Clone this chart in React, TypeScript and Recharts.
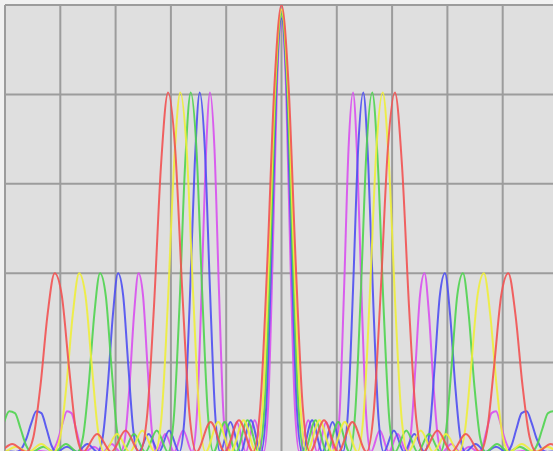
import React from 'react';
import { LineChart, Line, XAxis, YAxis, CartesianGrid } from 'recharts';

// Diffraction spectrum: positive-side samples [position, intensity] for each colour.
// The spectrum is symmetric about the central (zero-order) maximum.
const redPos: [number, number][] = [
  [0, 1.0], [1.28, 0.82], [2.56, 0.426], [3.85, 0.1], [5.13, 0], [7.69, 0.071], [10.26, 0],
  [12.82, 0.067], [15.38, 0], [16.66, 0.088], [17.95, 0.362], [19.23, 0.678], [20.51, 0.804],
  [21.79, 0.641], [23.07, 0.323], [24.36, 0.074], [25.64, 0], [28.2, 0.048], [30.77, 0],
  [33.33, 0.04], [35.89, 0], [37.17, 0.047], [38.46, 0.194], [39.74, 0.351], [41.02, 0.4],
  [42.3, 0.308], [43.58, 0.149], [44.87, 0.033], [46.15, 0], [48.71, 0.018], [51.28, 0],
  [53.84, 0.012],
];

const yellowPos: [number, number][] = [
  [0, 0.99], [1.14, 0.82], [2.29, 0.426], [3.43, 0.1], [4.58, 0], [6.86, 0.071], [9.15, 0],
  [11.44, 0.067], [13.73, 0], [14.87, 0.088], [16.01, 0.362], [17.16, 0.678], [18.3, 0.804],
  [19.44, 0.641], [20.59, 0.323], [21.73, 0.074], [22.88, 0], [25.16, 0.048], [27.45, 0],
  [29.74, 0.04], [32.03, 0], [33.17, 0.047], [34.31, 0.194], [35.46, 0.351], [36.6, 0.4],
  [37.74, 0.308], [38.89, 0.149], [40.03, 0.033], [41.18, 0], [43.46, 0.018], [45.75, 0],
  [48.04, 0.012], [50.33, 0], [51.47, 0.014], [52.61, 0.052],
];

const greenPos: [number, number][] = [
  [0, 0.98], [1.03, 0.82], [2.05, 0.426], [3.08, 0.1], [4.1, 0], [6.15, 0.071], [8.21, 0],
  [10.26, 0.067], [12.31, 0], [13.33, 0.088], [14.36, 0.362], [15.38, 0.678], [16.41, 0.804],
  [17.44, 0.641], [18.46, 0.323], [19.49, 0.074], [20.51, 0], [22.56, 0.048], [24.62, 0],
  [26.67, 0.04], [28.72, 0], [29.74, 0.047], [30.77, 0.194], [31.79, 0.351], [32.82, 0.4],
  [33.85, 0.308], [34.87, 0.149], [35.9, 0.033], [36.92, 0], [38.97, 0.018], [41.03, 0],
  [43.08, 0.012], [45.13, 0], [46.15, 0.014], [47.18, 0.052], [48.2, 0.087], [49.23, 0.091],
  [50.26, 0.064], [51.28, 0.028], [52.31, 0.006], [53.33, 0],
];

const bluePos: [number, number][] = [
  [0, 0.97], [0.92, 0.82], [1.85, 0.426], [2.77, 0.1], [3.7, 0], [5.54, 0.071], [7.39, 0],
  [9.24, 0.067], [11.09, 0], [12.01, 0.088], [12.93, 0.362], [13.86, 0.678], [14.78, 0.804],
  [15.7, 0.641], [16.63, 0.323], [17.55, 0.074], [18.48, 0], [20.32, 0.048], [22.17, 0],
  [24.02, 0.04], [25.87, 0], [26.79, 0.047], [27.71, 0.194], [28.64, 0.351], [29.56, 0.4],
  [30.48, 0.308], [31.41, 0.149], [32.33, 0.033], [33.26, 0], [35.1, 0.018], [36.95, 0],
  [38.8, 0.012], [40.65, 0], [41.57, 0.014], [42.49, 0.052], [43.42, 0.087], [44.34, 0.091],
  [45.26, 0.064], [46.19, 0.028], [47.11, 0.006], [48.04, 0], [49.88, 0.002], [51.73, 0],
];

const magentaPos: [number, number][] = [
  [0, 0.97], [0.81, 0.82], [1.62, 0.426], [2.42, 0.1], [3.23, 0], [4.85, 0.071], [6.47, 0],
  [8.08, 0.067], [9.7, 0], [10.51, 0.088], [11.31, 0.362], [12.12, 0.678], [12.93, 0.804],
  [13.74, 0.641], [14.55, 0.323], [15.35, 0.074], [16.16, 0], [17.78, 0.048], [19.4, 0],
  [21.01, 0.04], [22.63, 0], [23.44, 0.047], [24.24, 0.194], [25.05, 0.351], [25.86, 0.4],
  [26.67, 0.308], [27.48, 0.149], [28.28, 0.033], [29.09, 0], [30.71, 0.018], [32.33, 0],
  [33.94, 0.012], [35.56, 0], [36.37, 0.014], [37.17, 0.052], [37.98, 0.087], [38.79, 0.091],
  [39.6, 0.064], [40.41, 0.028], [41.21, 0.006], [42.02, 0], [43.64, 0.002], [45.26, 0],
  [46.87, 0.001], [48.49, 0], [51.72, 0],
];

const xGridTicks = [-50, -40, -30, -20, -10, 0, 10, 20, 30, 40, 50];
const yGridTicks = [0, 0.2, 0.4, 0.6, 0.8, 1];

const toSymmetricRows = (pos: [number, number][]) => {
  const neg = pos.filter((p) => p[0] > 0).map(([x, y]) => ({ x: -x, y })).reverse();
  return [...neg, ...pos.map(([x, y]) => ({ x, y }))];
};

const series = [
  { name: 'violet', color: '#d850f0', data: toSymmetricRows(magentaPos) },
  { name: 'blue', color: '#4f4ff2', data: toSymmetricRows(bluePos) },
  { name: 'green', color: '#4fd44f', data: toSymmetricRows(greenPos) },
  { name: 'yellow', color: '#eeee3a', data: toSymmetricRows(yellowPos) },
  { name: 'red', color: '#f25252', data: toSymmetricRows(redPos) },
];

export default function App() {
  return (
    <div
      style={{
        position: 'absolute',
        left: 0,
        top: 0,
        width: 553,
        height: 451,
        overflow: 'hidden',
        background: '#f1f1f1',
      }}
    >
      <LineChart width={563} height={457} margin={{ top: 5, right: 5, bottom: 5, left: 5 }}>
        <CartesianGrid fill="#dfdfdf" stroke="#9c9c9c" strokeWidth={2} />
        <XAxis
          dataKey="x"
          type="number"
          domain={[-50, 50]}
          ticks={xGridTicks}
          allowDataOverflow
          hide
        />
        <YAxis type="number" domain={[0, 1]} ticks={yGridTicks} allowDataOverflow hide />
        {series.map((s) => (
          <Line
            key={s.name}
            data={s.data}
            dataKey="y"
            type="monotone"
            stroke={s.color}
            strokeWidth={2}
            strokeOpacity={0.9}
            dot={false}
            activeDot={false}
            isAnimationActive={false}
          />
        ))}
      </LineChart>
    </div>
  );
}
